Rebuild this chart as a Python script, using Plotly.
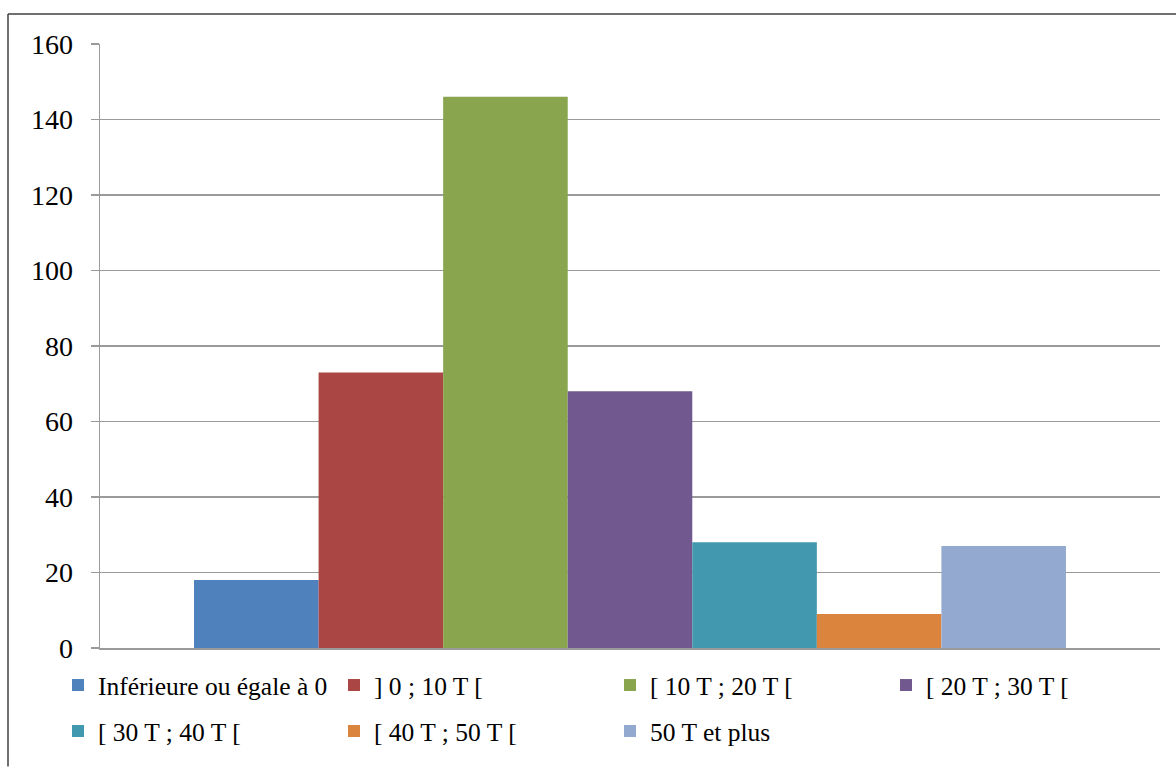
import plotly.graph_objects as go

series_names = ["Inférieure ou égale à 0", "] 0 ; 10 T [", "[ 10 T ; 20 T [", "[ 20 T ; 30 T [",
                "[ 30 T ; 40 T [", "[ 40 T ; 50 T [", "50 T et plus"]
series_values = [18, 73, 146, 68, 28, 9, 27]
series_colors = ["#4F81BD", "#AA4643", "#89A54E", "#71588F", "#4198AF", "#DB843D", "#93A9CF"]
category = [0]

W, H = 1176, 767
ML, MR, MT, MB = 100, 16, 44, 117
PW, PH = W - ML - MR, H - MT - MB

def px_x(x):
    return (x - ML) / PW

def px_y(y):
    return (H - MB - y) / PH

FONT = "Liberation Serif, Times New Roman, serif"
LEG_SIZE = 25.5

fig = go.Figure()
for i, (name, val, col) in enumerate(zip(series_names, series_values, series_colors)):
    fig.add_trace(go.Bar(
        x=category, y=[val], name=name, marker=dict(color=col, line=dict(width=0)),
        legend="legend" if i < 4 else "legend2",
    ))

fig.update_layout(
    width=W, height=H,
    margin=dict(l=ML, r=MR, t=MT, b=MB),
    paper_bgcolor="white", plot_bgcolor="white",
    barmode="group", bargap=0.1774, bargroupgap=0,
    font=dict(family=FONT, color="black", size=24),
    xaxis=dict(range=[-0.5, 0.5], showticklabels=False, showgrid=False, zeroline=False,
               showline=True, linecolor="#9A9A9A", linewidth=2, ticks=""),
    yaxis=dict(range=[0, 160], dtick=20, tick0=0, showgrid=True, gridcolor="#9A9A9A", gridwidth=1.5,
               zeroline=False, showline=True, linecolor="#9A9A9A", linewidth=1.5,
               ticks="outside", ticklen=8, tickcolor="#9A9A9A", tickwidth=1.5,
               tickfont=dict(family=FONT, size=28, color="black"), ticklabelstandoff=12),
    legend=dict(orientation="h", x=px_x(58), xanchor="left", y=px_y(664), yanchor="top",
                entrywidth=231, entrywidthmode="pixels", font=dict(family=FONT, size=LEG_SIZE),
                bgcolor="rgba(0,0,0,0)", itemclick=False, itemdoubleclick=False, traceorder="normal"),
    legend2=dict(orientation="h", x=px_x(58), xanchor="left", y=px_y(710), yanchor="top",
                 entrywidth=231, entrywidthmode="pixels", font=dict(family=FONT, size=LEG_SIZE),
                 bgcolor="rgba(0,0,0,0)", itemclick=False, itemdoubleclick=False, traceorder="normal"),
    shapes=[
        dict(type="line", xref="paper", yref="paper", x0=px_x(8), x1=px_x(8), y0=px_y(14), y1=px_y(H + 2),
             line=dict(color="#404040", width=1.5)),
        dict(type="line", xref="paper", yref="paper", x0=px_x(8), x1=px_x(W + 2), y0=px_y(14), y1=px_y(14),
             line=dict(color="#404040", width=1.5)),
    ],
)

fig.write_html("out.html", config={"displayModeBar": False, "staticPlot": True})
with open("out.html", "r", encoding="utf-8") as f:
    html = f.read()
html = html.replace("<body>", '<body style="margin:0;padding:0;overflow:hidden">', 1)
with open("out.html", "w", encoding="utf-8") as f:
    f.write(html)
